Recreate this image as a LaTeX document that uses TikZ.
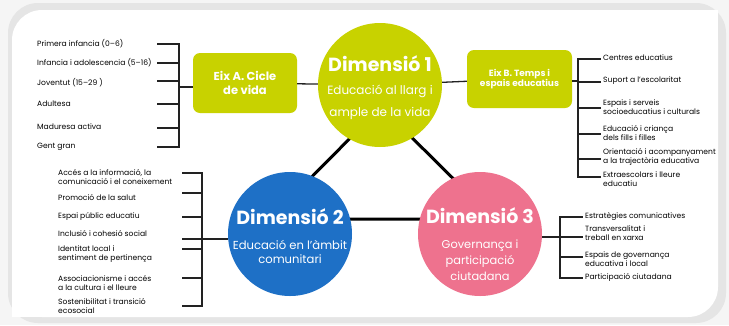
\documentclass[tikz,border=0pt]{standalone}
\usepackage{fontspec}
\setmainfont{Poppins}
\usetikzlibrary{positioning}

\definecolor{dimyellow}{RGB}{200,210,0}
\definecolor{dimblue}{RGB}{30,112,198}
\definecolor{dimpink}{RGB}{238,114,142}
\definecolor{linegray}{RGB}{34,34,34}

\begin{document}
\begin{tikzpicture}[x=1pt,y=-1pt,
  dim/.style={circle,minimum size=124pt,inner sep=0pt},
  dimtitle/.style={text=white,inner sep=0pt,font=\bfseries\fontsize{19}{21}\selectfont},
  dimtext/.style={text=white,align=center,inner sep=0pt},
  eix/.style={rounded corners=7pt,fill=dimyellow,text=white,align=center,inner sep=0pt,
    font=\bfseries\fontsize{9}{10.5}\selectfont},
  item/.style={anchor=west,align=left,inner sep=0pt,font=\fontsize{7.6}{9.5}\selectfont},
  bracket/.style={draw=linegray,line width=1.1pt,line cap=rect},
  link/.style={draw=linegray,line width=1.3pt},
  tri/.style={draw=black,line width=3pt}]
  \useasboundingbox (0,0) rectangle (729,325);
  % card with its shadow
  \fill[black!4] (0,0) rectangle (729,325);
  \fill[black!10,rounded corners=30pt] (8,3) rectangle (726,323);
  \fill[white,rounded corners=30pt] (12,10) rectangle (718,317);
  \fill[white] (600,10) rectangle (718,100);
  \fill[white] (12,230) rectangle (100,317);

  % triangle behind the three dimensions
  \coordinate (triA) at (381,107);
  \coordinate (triB) at (270,219);
  \coordinate (triC) at (494,219);
  \draw[tri] (triA) -- (triB) -- (triC) -- cycle;

  \node[dim,fill=dimyellow] (dimA) at (380,85) {};
  \node[dim,fill=dimblue] (dimB) at (290,234) {};
  \node[dim,fill=dimpink] (dimC) at (480,234) {};

  \node[dimtitle] (dimAt) at ([yshift=21pt]dimA.center) {Dimensió 1};
  \node[dimtext,font=\fontsize{12}{22}\selectfont] (dimAs) at ([yshift=-17pt]dimA.center)
    {Educació al llarg i\\ample de la vida};
  \node[dimtitle] (dimBt) at ([yshift=17pt]dimB.center) {Dimensió 2};
  \node[dimtext,font=\fontsize{11.6}{14.5}\selectfont] (dimBs) at ([yshift=-18pt]dimB.center)
    {Educació en l'àmbit\\comunitari};
  \node[dimtitle] (dimCt) at ([yshift=18pt]dimC.center) {Dimensió 3};
  \node[dimtext,font=\fontsize{11.4}{16}\selectfont] (dimCs) at ([yshift=-26pt]dimC.center)
    {Governança i\\participació\\ciutadana};

  \node[eix,minimum width=104pt,minimum height=60pt,font=\bfseries\fontsize{11.5}{14}\selectfont]
    (eixA) at (245,83) {Eix A. Cicle\\de vida};
  \node[eix,minimum width=105pt,minimum height=58pt] (eixB) at (519.5,79) {Eix B. Temps i\\espais educatius};
  \draw[link] (eixA) -- (dimA);
  \draw[link] (dimA) -- (eixB);

  % Eix A: cicle de vida
  \coordinate (vA) at (179,87);
  \foreach \i/\y/\s/\txt in {1/44/44/{Primera infancia (0--6)},
      2/63/63/{Infancia i adolescencia (5--16)}, 3/83/81/{Joventut (15--29 )},
      4/104/104/{Adultesa}, 5/127/128/{Maduresa activa}, 6/147/147/{Gent gran}} {
    \node[item] (a\i) at (37,\y) {\txt};
    \coordinate (sa\i) at (158,\s);
    \draw[bracket] (sa\i) -- (sa\i -| vA);
  }
  \draw[bracket] (sa1 -| vA) -- (sa6 -| vA);
  \draw[bracket] (vA) -- (vA -| eixA.west);

  % Eix B: temps i espais educatius
  \coordinate (vB) at (578,81);
  \foreach \i/\y/\s/\txt in {1/58/59/{Centres educatius},
      2/81/82/{Suport a l'escolaritat},
      3/107/108/{Espais i serveis\\socioeducatius i culturals},
      4/133/134/{Educació i criança\\dels fills i filles},
      5/157/159/{Orientació i acompanyament\\a la trajectòria educativa},
      6/179/177/{Extraescolars i lleure\\educatiu}} {
    \node[item] (b\i) at (603,\y) {\txt};
    \coordinate (sb\i) at (600,\s);
    \draw[bracket] (sb\i) -- (sb\i -| vB);
  }
  \draw[bracket] (sb1 -| vB) -- (sb6 -| vB);
  \draw[bracket] (vB) -- (vB -| eixB.east);

  % Dimensio 3
  \coordinate (vC) at (560,237);
  \foreach \i/\y/\s/\txt in {1/217/217/{Estratègies comunicatives},
      2/233/237/{Transversalitat i\\treball en xarxa},
      3/259/257/{Espais de governança\\educativa i local},
      4/277/278/{Participació ciutadana}} {
    \node[item] (c\i) at (585,\y) {\txt};
    \coordinate (sc\i) at (582,\s);
    \draw[bracket] (sc\i) -- (sc\i -| vC);
  }
  \draw[bracket] (sc1 -| vC) -- (sc4 -| vC);
  \draw[bracket] (vC) -- (vC -| dimC.east);

  % Dimensio 2
  \coordinate (vD) at (202,239);
  \foreach \i/\y/\s/\txt in {1/177/173/{Accés a la informació, la\\comunicació i el coneixement},
      2/198/193/{Promoció de la salut}, 3/217/217/{Espai públic educatiu},
      4/234/239/{Inclusió i cohesió social},
      5/254/249/{Identitat local i\\sentiment de pertinença},
      6/283/278/{Associacionisme i accés\\a la cultura i el lleure},
      7/306/306/{Sostenibilitat i transició\\ecosocial}} {
    \node[item] (d\i) at (58,\y) {\txt};
    \coordinate (sd\i) at (183,\s);
    \draw[bracket] (sd\i) -- (sd\i -| vD);
  }
  \draw[bracket] (sd1 -| vD) -- (sd7 -| vD);
  \draw[bracket] (vD) -- (vD -| dimB.west);
\end{tikzpicture}
\end{document}
